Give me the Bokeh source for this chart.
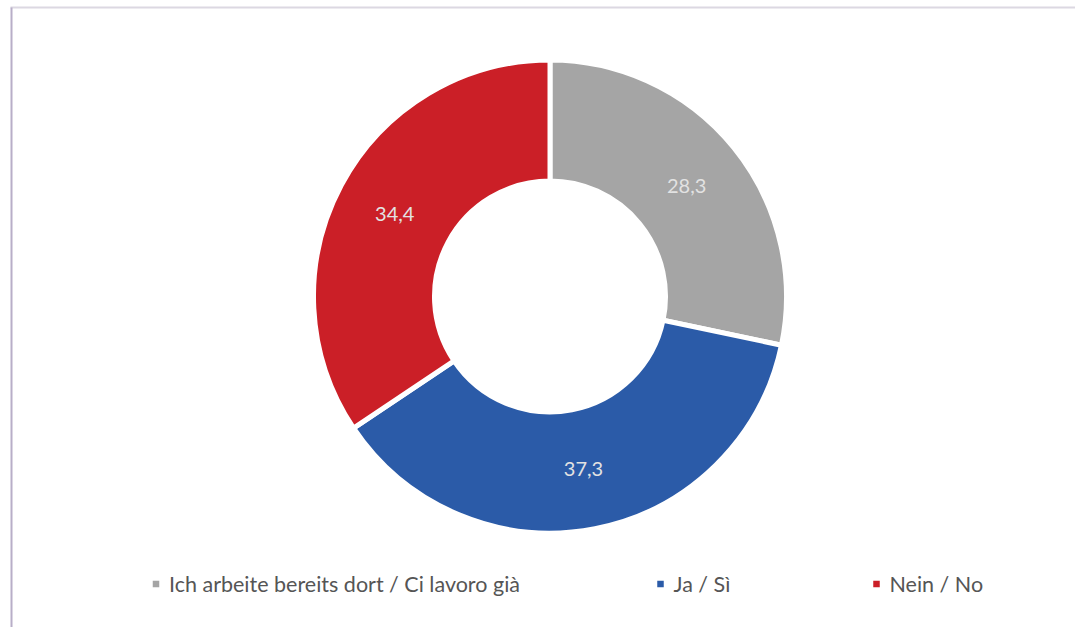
import math
from bokeh.plotting import figure
from bokeh.models import Range1d
from bokeh.core.properties import value
from bokeh.embed import file_html
from bokeh.resources import INLINE

categories = ["Ich arbeite bereits dort / Ci lavoro già", "Ja / Sì", "Nein / No"]
values = [28.3, 37.3, 34.4]
labels = ["28,3", "37,3", "34,4"]
colors = ["#a5a5a5", "#2b5ba8", "#cb1f27"]

W, H = 1075, 627
p = figure(width=W, height=H, output_backend="svg", toolbar_location=None,
           x_range=Range1d(0, W), y_range=Range1d(0, H),
           min_border=0, min_border_left=0, min_border_right=0,
           min_border_top=0, min_border_bottom=0)
p.axis.visible = False
p.grid.visible = False
p.outline_line_color = None
p.background_fill_color = "white"
p.border_fill_color = "white"

def sy(y):  # screen y (top-down) -> data y
    return H - y

cx, cy = 549.5, sy(296)
r_out, r_in = 234, 118
total = sum(values)

starts, ends, lx, ly = [], [], [], []
a = math.pi / 2
for v in values:
    sweep = v / total * 2 * math.pi
    starts.append(a)
    ends.append(a - sweep)
    mid = a - sweep / 2
    rm = (r_in + r_out) / 2
    lx.append(cx + rm * math.cos(mid))
    ly.append(cy + rm * math.sin(mid))
    a -= sweep

p.annular_wedge(x=[cx] * 3, y=[cy] * 3, inner_radius=r_in - 2.5, outer_radius=r_out + 2.5,
                start_angle=starts, end_angle=ends, direction="clock",
                fill_color=colors, line_color="white", line_width=5)

p.text(x=lx, y=ly, text=labels, text_color="#e2e2e2", text_font=value("Lato"),
       text_font_size="20px", text_align="center", text_baseline="middle")

# legend
leg_x = [155.5, 660, 876]
p.rect(x=leg_x, y=[sy(583.5)] * 3, width=6.5, height=6.5, fill_color=colors, line_color=None)
p.text(x=[x + 13 for x in leg_x], y=[sy(583)] * 3, text=categories, text_color="#555555",
       text_font=value("Lato"), text_font_size="21.5px", text_align="left",
       text_baseline="middle")

# chart border (top & left)
p.segment(x0=[10], y0=[sy(7)], x1=[W], y1=[sy(7)], line_color="#dcd8e2", line_width=2)
p.segment(x0=[11], y0=[sy(7)], x1=[11], y1=[0], line_color="#b8aec8", line_width=2)

open("out.html", "w").write(file_html(p, INLINE))
